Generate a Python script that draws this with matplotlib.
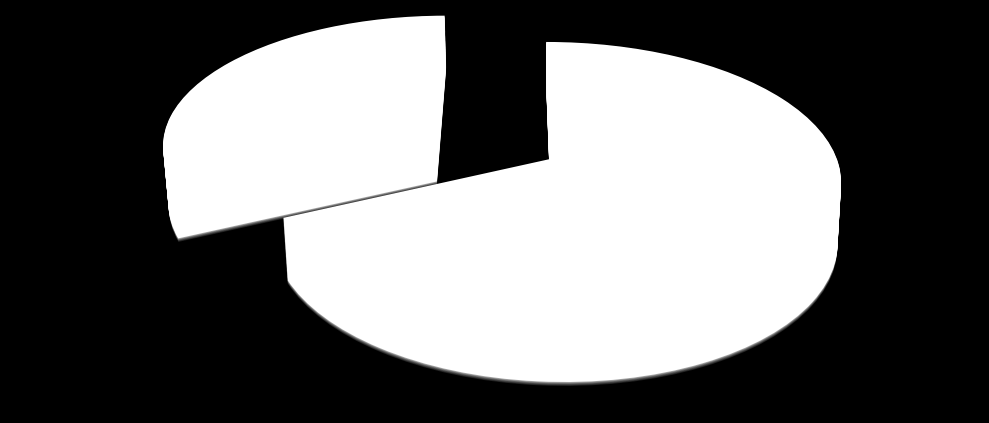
import numpy as np
import matplotlib
matplotlib.use('Agg')
import matplotlib.pyplot as plt
from matplotlib.transforms import Transform
from matplotlib.patches import Polygon

# ---- data -------------------------------------------------------------
categories = ['Series A', 'Series B']
values = [68, 32]
explode = [0.0, 0.5]

# ---- 3D view (camera projection of the pie plane, screen px, y down) ----
W, H = 989, 423
CAMERA = np.array([
    [2.773605e+02, 7.410370e+01, -3.584997e+01, 5.509758e+02],
    [-6.424428e-01, -1.107953e+02, -2.858163e+02, 1.588188e+02],
    [-1.055264e-02, 1.444041e-01, -6.173814e-02, 1.000000e+00],
])
THICK = 0.218


class Persp(Transform):
    """Projects pie-plane coordinates (u, v) at height z onto the figure."""
    input_dims = 2
    output_dims = 2
    is_affine = False
    has_inverse = False

    def __init__(self, z):
        super().__init__()
        self.z = z

    def transform_non_affine(self, xy):
        xy = np.asarray(xy, dtype=float).reshape(-1, 2)
        n = len(xy)
        pts = np.column_stack([xy, np.full(n, self.z), np.ones(n)])
        ph = pts @ CAMERA.T
        px = ph[:, 0] / ph[:, 2]
        py = ph[:, 1] / ph[:, 2]
        return np.column_stack([px, H - py])


fig = plt.figure(figsize=(W / 100, H / 100), dpi=100, facecolor='black')
ax = fig.add_axes([0, 0, 1, 1])
ax.set_facecolor('black')

n_layers = 70
dz = THICK / n_layers
shadow_cols = ['#1e1e1e', '#333333', '#4a4a4a', '#656565', '#858585', '#a8a8a8']
layers = []
for j, col in enumerate(shadow_cols):
    layers.append((-THICK - (len(shadow_cols) - j) * dz * 0.7, col))
for k in range(n_layers + 1):
    layers.append((-THICK + k * dz, '#ffffff'))

top_wedges = None
for idx, (z, col) in enumerate(layers):
    wedges, _ = ax.pie(values, explode=explode, startangle=90, counterclock=False,
                       colors=[col] * len(values), radius=1.0,
                       wedgeprops=dict(linewidth=0, antialiased=True))
    tr = Persp(z) + ax.transData
    for i, w in enumerate(wedges):
        w.set_transform(tr)
        # exploded (rear) slice drawn first, front slice on top of it
        w.set_zorder((2 if i == 0 else 1) + idx * 1e-3)
    top_wedges = wedges

# ---- shaded radial (cut) faces turned sideways to the viewer -------------
# drawn beneath their own slice, so the slice body hides whatever is hidden
n_bands = 10
for i, w in enumerate(top_wedges):
    cx, cy = w.center
    for ang, sign in [(w.theta1, -1), (w.theta2, +1)]:
        a = np.radians(ang)
        d = np.array([np.cos(a), np.sin(a)])
        nrm = sign * np.array([-d[1], d[0]])       # outward normal of the cut face
        if -nrm[1] > 0.5 or nrm[1] > 0.5:
            continue                                # front/back faces stay white
        for b in range(n_bands):
            z0 = -THICK * b / n_bands
            z1 = -THICK * (b + 1) / n_bands
            p0 = Persp(z0).transform(np.array([[cx, cy], [cx + d[0], cy + d[1]]]))
            p1 = Persp(z1).transform(np.array([[cx + d[0], cy + d[1]], [cx, cy]]))
            g = 0.52 - 0.32 * (b + 0.5) / n_bands
            ax.add_patch(Polygon(np.vstack([p0, p1]), closed=True, transform=ax.transData,
                                 facecolor=(g, g, g), edgecolor=(g, g, g), linewidth=0.3,
                                 zorder=(2 if i == 0 else 1) - 0.5))

ax.set_aspect('auto')
ax.set_xlim(0, W)
ax.set_ylim(0, H)
ax.set_xticks([])
ax.set_yticks([])
for s in ax.spines.values():
    s.set_visible(False)

fig.savefig('out.png', dpi=100, facecolor='black')
